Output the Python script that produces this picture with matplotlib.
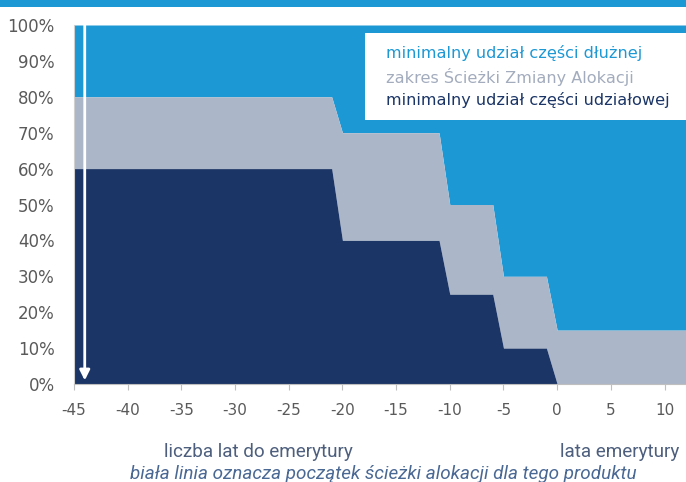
import matplotlib
matplotlib.use('Agg')
import matplotlib.pyplot as plt
from matplotlib.patches import Rectangle

# lata wzgledem emerytury i granice udzialow (%)
years = [-45, -21, -20, -11, -10, -6, -5, -1, 0, 12]
equity_min = [60, 60, 40, 40, 25, 25, 10, 10, 0, 0]
equity_max = [80, 80, 70, 70, 50, 50, 30, 30, 15, 15]
xticks = [-45, -40, -35, -30, -25, -20, -15, -10, -5, 0, 5, 10]
yticks = [0, 10, 20, 30, 40, 50, 60, 70, 80, 90, 100]
legend_labels = ['minimalny udział części dłużnej',
                 'zakres Ścieżki Zmiany Alokacji',
                 'minimalny udział części udziałowej']
start_year = -44

c_blue = '#1c98d5'
c_gray = '#abb6c8'
c_navy = '#1b3566'
c_text = '#5a5a5a'

fig = plt.figure(figsize=(6.86, 4.82), dpi=100)
ax = fig.add_axes([74/686, 1 - 384/482, 1 - 74/686, (384 - 25)/482])

ax.fill_between(years, equity_max, 100, color=c_blue, lw=0)
ax.fill_between(years, equity_min, equity_max, color=c_gray, lw=0)
ax.fill_between(years, 0, equity_min, color=c_navy, lw=0)

ax.annotate('', xy=(start_year, 1), xytext=(start_year, 100),
            arrowprops=dict(arrowstyle='-|>', color='white', lw=2,
                            mutation_scale=15, shrinkA=0, shrinkB=0))

ax.set_xlim(-45, 12)
ax.set_ylim(0, 100)
ax.set_xticks(xticks)
ax.set_xticklabels([str(v) for v in xticks])
ax.set_yticks(yticks)
ax.set_yticklabels([f'{v}%' for v in yticks])
ax.tick_params(axis='x', colors='#bfbfbf', length=4, labelcolor=c_text,
               labelsize=11, pad=10)
ax.tick_params(axis='y', length=0, labelcolor=c_text, labelsize=12, pad=14)
for s in ['top', 'right']:
    ax.spines[s].set_visible(False)
ax.spines['left'].set_color('#d0d0d0')
ax.spines['bottom'].set_color('#bfbfbf')

# legenda jako biale pole z kolorowym tekstem
ax.add_patch(Rectangle((365/686, 1 - 120/482), 1, (120 - 33)/482,
                       transform=fig.transFigure, facecolor='white',
                       edgecolor='none', zorder=5))
for i, (lab, col) in enumerate(zip(legend_labels, [c_blue, '#a3acbd', c_navy])):
    fig.text(386/686, 1 - (53 + 23.5*i)/482, lab, color=col, fontsize=11.6,
             va='center', ha='left', zorder=6)

# pasek u gory
fig.patches.append(Rectangle((0, 1 - 7/482), 1, 7/482, transform=fig.transFigure,
                             facecolor=c_blue, edgecolor='none'))

fam = ['Roboto', 'DejaVu Sans']
fig.text(258/686, 1 - 452/482, 'liczba lat do emerytury', color='#4d5f7d',
         fontsize=13.6, family=fam, ha='center', va='center')
fig.text(620/686, 1 - 452/482, 'lata emerytury', color='#4d5f7d',
         fontsize=13.6, family=fam, ha='center', va='center')
fig.text(383/686, 1 - 474/482,
         'biała linia oznacza początek ścieżki alokacji dla tego produktu',
         color='#4a6894', fontsize=13.6, family=fam, style='italic',
         ha='center', va='center')

fig.savefig('out.png', dpi=100)
